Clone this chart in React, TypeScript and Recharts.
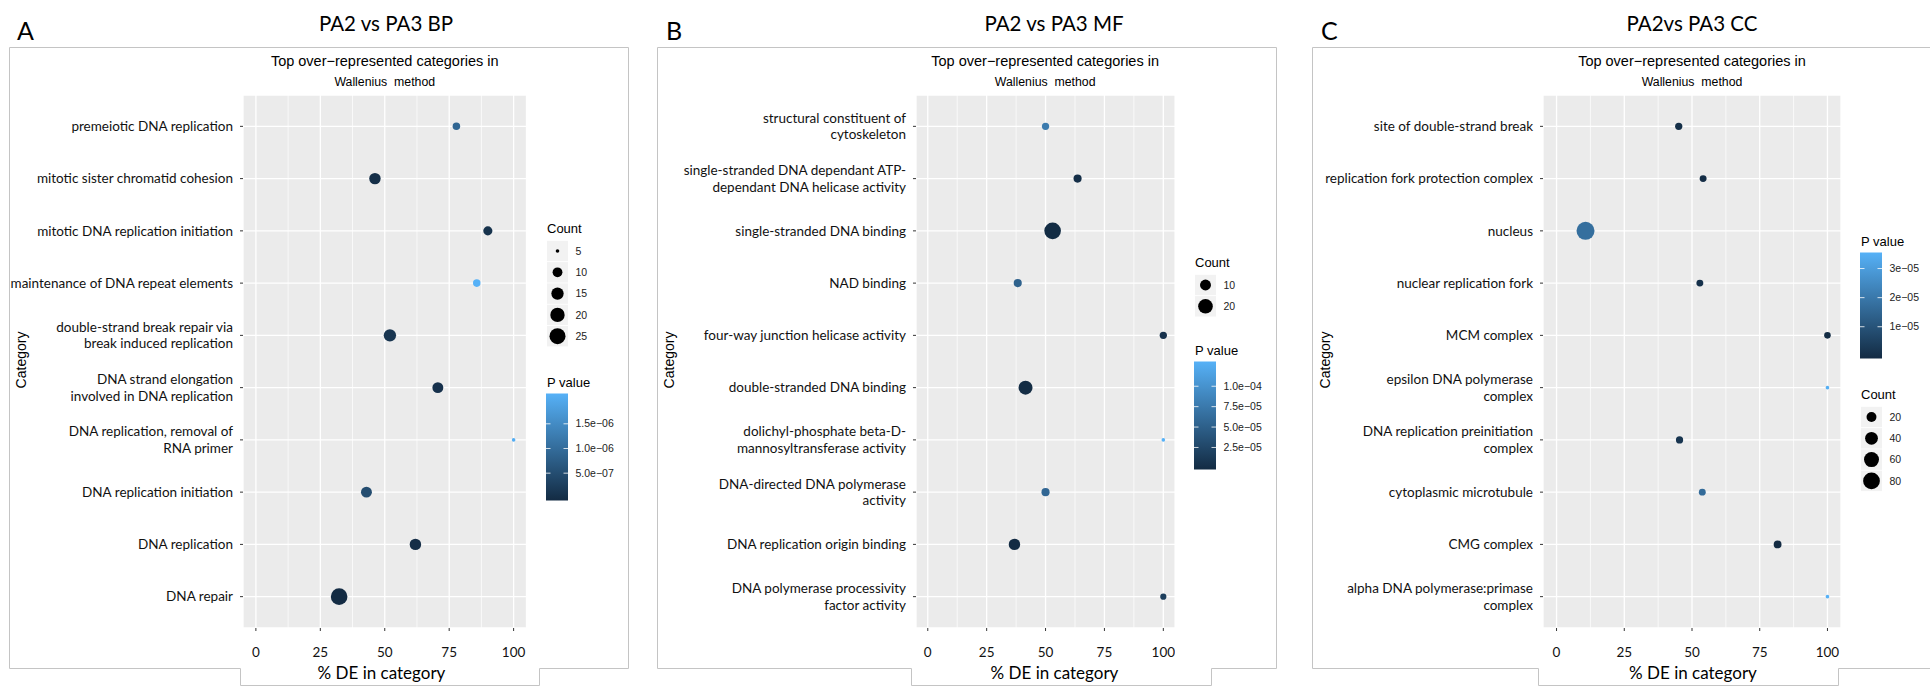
import React from 'react'
import { ScatterChart, Scatter, XAxis, YAxis, CartesianGrid, ReferenceLine } from 'recharts'

// ---- BP panel ----
const bpCategories = [
  'premeiotic DNA replication',
  'mitotic sister chromatid cohesion',
  'mitotic DNA replication initiation',
  'maintenance of DNA repeat elements',
  'double-strand break repair via\nbreak induced replication',
  'DNA strand elongation\ninvolved in DNA replication',
  'DNA replication, removal of\nRNA primer',
  'DNA replication initiation',
  'DNA replication',
  'DNA repair',
]
const bpPct = [77.8, 46.2, 90, 85.7, 52, 70.6, 100, 42.9, 61.9, 32.3]
const bpCount = [7, 13, 9, 7, 15, 12, 5, 12, 13, 27]
const bpPval = [9e-7, 6e-8, 1.2e-7, 2.06e-6, 1.5e-7, 1e-7, 2.0e-6, 5.2e-7, 5e-8, 2e-10]
const bpCountBreaks = [5, 10, 15, 20, 25]
const bpPvalBreaks = [1.5e-6, 1.0e-6, 5.0e-7]
const bpPvalLabels = ['1.5e−06', '1.0e−06', '5.0e−07']

// ---- MF panel ----
const mfCategories = [
  'structural constituent of\ncytoskeleton',
  'single-stranded DNA dependant ATP-\ndependant DNA helicase activity',
  'single-stranded DNA binding',
  'NAD binding',
  'four-way junction helicase activity',
  'double-stranded DNA binding',
  'dolichyl-phosphate beta-D-\nmannosyltransferase activity',
  'DNA-directed DNA polymerase\nactivity',
  'DNA replication origin binding',
  'DNA polymerase processivity\nfactor activity',
]
const mfPct = [50, 63.6, 53, 38.2, 100, 41.5, 100, 50, 36.8, 100]
const mfCount = [4, 5, 27, 5, 4, 18, 2, 5, 11, 3]
const mfPval = [7.6e-5, 5e-6, 2e-6, 5.3e-5, 8e-6, 3e-6, 1.27e-4, 5.7e-5, 1.3e-6, 1.9e-5]
const mfCountBreaks = [10, 20]
const mfPvalBreaks = [1.0e-4, 7.5e-5, 5.0e-5, 2.5e-5]
const mfPvalLabels = ['1.0e−04', '7.5e−05', '5.0e−05', '2.5e−05']

// ---- CC panel ----
const ccCategories = [
  'site of double-strand break',
  'replication fork protection complex',
  'nucleus',
  'nuclear replication fork',
  'MCM complex',
  'epsilon DNA polymerase\ncomplex',
  'DNA replication preinitiation\ncomplex',
  'cytoplasmic microtubule',
  'CMG complex',
  'alpha DNA polymerase:primase\ncomplex',
]
const ccPct = [45.1, 54.1, 10.7, 52.9, 100, 100, 45.4, 53.8, 81.6, 100]
const ccCount = [8, 7, 95, 7, 6, 2, 8, 7, 10, 2]
const ccPval = [1e-6, 5e-7, 1.75e-5, 1.5e-6, 2e-7, 3.4e-5, 2.5e-6, 1.65e-5, 1e-9, 3.46e-5]
const ccCountBreaks = [20, 40, 60, 80]
const ccPvalBreaks = [3e-5, 2e-5, 1e-5]
const ccPvalLabels = ['3e−05', '2e−05', '1e−05']

const xTicks = [0, 25, 50, 75, 100]
const xMinor = [12.5, 37.5, 62.5, 87.5]

const PLOT_TOP = 95
const PLOT_H = 533
const Y_AXIS_W = 240
const X_AXIS_H = 50
const R_MIN = 1.8
const LOW = [19, 43, 67]
const HIGH = [86, 177, 247]
const GG = "'Liberation Sans', Arial, sans-serif"
const CAL = "Lato, 'Open Sans', sans-serif"

function makeRadius(counts: number[], rMax: number) {
  const lo = Math.min(...counts)
  const hi = Math.max(...counts)
  return (c: number) => R_MIN + (rMax - R_MIN) * Math.sqrt(Math.max(0, (c - lo) / (hi - lo)))
}

function makeColor(pvals: number[]) {
  const lo = Math.min(...pvals)
  const hi = Math.max(...pvals)
  return (p: number) => {
    const t = Math.min(1, Math.max(0, (p - lo) / (hi - lo)))
    const c = LOW.map((v, i) => Math.round(v + (HIGH[i] - v) * t))
    return `rgb(${c[0]},${c[1]},${c[2]})`
  }
}

type Spec = {
  id: string
  letter: string
  letterX: number
  title: string
  titleX: number
  plotLeft: number
  plotRight: number
  xLabelX: number
  categoryX: number
  box: string
  legendX: number
  countTitleY: number
  pTitleY: number
  barH: number
  rMax: number
  categories: string[]
  pct: number[]
  count: number[]
  pval: number[]
  countBreaks: number[]
  pBreaks: number[]
  pLabels: string[]
}

const specs: Spec[] = [
  {
    id: 'bp', letter: 'A', letterX: 17, title: 'PA2 vs PA3 BP', titleX: 386,
    plotLeft: 243, plotRight: 526.5, xLabelX: 381.5, categoryX: 21,
    box: 'M9.5 668.5V47.5H628.5V668.5H539.5V685.5H240.5V668.5Z',
    legendX: 547, countTitleY: 228, pTitleY: 382, barH: 107, rMax: 8.3,
    categories: bpCategories, pct: bpPct, count: bpCount, pval: bpPval,
    countBreaks: bpCountBreaks, pBreaks: bpPvalBreaks, pLabels: bpPvalLabels,
  },
  {
    id: 'mf', letter: 'B', letterX: 666, title: 'PA2 vs PA3 MF', titleX: 1054,
    plotLeft: 915.6, plotRight: 1174.7, xLabelX: 1054.5, categoryX: 669,
    box: 'M657.5 668.5V47.5H1276.5V668.5H1211.5V685.5H911.5V668.5Z',
    legendX: 1195, countTitleY: 262, pTitleY: 350, barH: 108, rMax: 8.3,
    categories: mfCategories, pct: mfPct, count: mfCount, pval: mfPval,
    countBreaks: mfCountBreaks, pBreaks: mfPvalBreaks, pLabels: mfPvalLabels,
  },
  {
    id: 'cc', letter: 'C', letterX: 1321, title: 'PA2vs PA3 CC', titleX: 1692,
    plotLeft: 1543, plotRight: 1841, xLabelX: 1693, categoryX: 1325,
    box: 'M1930 47.5H1312.5V668.5H1538.5V685.5H1838.5V668.5H1930',
    legendX: 1861, countTitleY: 394, pTitleY: 241, barH: 106, rMax: 9,
    categories: ccCategories, pct: ccPct, count: ccCount, pval: ccPval,
    countBreaks: ccCountBreaks, pBreaks: ccPvalBreaks, pLabels: ccPvalLabels,
  },
]

function CategoryTick(props: any) {
  const { y, payload, labels } = props
  const lines: string[] = (labels[payload.value - 1] || '').split('\n')
  const lh = 16.7
  const right = Y_AXIS_W - 10
  return (
    <text textAnchor="end" fontFamily={CAL} fontSize={13.5} fill="#111">
      {lines.map((l, i) => (
        <tspan key={i} x={right} y={y + (i - (lines.length - 1) / 2) * lh} dy="0.35em">
          {l}
        </tspan>
      ))}
    </text>
  )
}

function PctTick(props: any) {
  const { x, payload } = props
  return (
    <text x={x} y={PLOT_H + 24} dy="0.35em" textAnchor="middle" fontFamily={CAL} fontSize={13.5} fill="#111">
      {payload.value}
    </text>
  )
}

function Panel({ s }: { s: Spec }) {
  const radius = makeRadius(s.count, s.rMax)
  const color = makeColor(s.pval)
  const data = s.categories.map((c, i) => ({ x: s.pct[i], y: i + 1, count: s.count[i], p: s.pval[i] }))
  const rows = s.categories.map((_, i) => i + 1)
  const plotW = s.plotRight - s.plotLeft
  const plotCx = (s.plotLeft + s.plotRight) / 2

  const pLo = Math.min(...s.pval)
  const pHi = Math.max(...s.pval)
  const barTop = s.pTitleY + 11.5
  const tickY = (v: number) => barTop + s.barH * (0.025 + 0.95 * (pHi - v) / (pHi - pLo))
  const lx = s.legendX
  const labX = lx + 28.5

  return (
    <>
      <svg width={1930} height={686} style={{ position: 'absolute', left: 0, top: 0 }}>
        <defs>
          <linearGradient id={'grad-' + s.id} x1="0" y1="0" x2="0" y2="1">
            <stop offset="0" stopColor={`rgb(${HIGH.join(',')})`} />
            <stop offset="1" stopColor={`rgb(${LOW.join(',')})`} />
          </linearGradient>
        </defs>
        <path d={s.box} fill="none" stroke="#c4c4c4" strokeWidth={1} />
        <text x={s.letterX} y={31} dy="0.36em" fontFamily={CAL} fontSize={25} fill="#000">{s.letter}</text>
        <text x={s.titleX} y={24} dy="0.36em" textAnchor="middle" fontFamily={CAL} fontSize={20.5} fill="#000">{s.title}</text>
        <text x={plotCx} y={61} dy="0.35em" textAnchor="middle" fontFamily={GG} fontSize={14.5} fill="#000">
          Top over−represented categories in
        </text>
        <text x={plotCx} y={82} dy="0.35em" textAnchor="middle" fontFamily={GG} fontSize={12.3} fill="#000">
          {'Wallenius\u00a0 method'}
        </text>
        <text x={s.xLabelX} y={673} dy="0.35em" textAnchor="middle" fontFamily={CAL} fontSize={17} fill="#000">
          % DE in category
        </text>
        <text
          x={s.categoryX}
          y={360}
          dy="0.35em"
          textAnchor="middle"
          fontFamily={GG}
          fontSize={14}
          fill="#000"
          transform={`rotate(-90 ${s.categoryX} 360)`}
        >
          Category
        </text>

        {/* size legend */}
        <text x={lx} y={s.countTitleY} dy="0.35em" fontFamily={GG} fontSize={13} fill="#000">Count</text>
        {s.countBreaks.map((b, i) => {
          const cy = s.countTitleY + 23 + i * 21.3
          return (
            <g key={b}>
              <rect x={lx} y={cy - 10.2} width={21} height={20.4} fill="#f2f2f2" />
              <circle cx={lx + 10.5} cy={cy} r={radius(b)} fill="#000" />
              <text x={labX} y={cy} dy="0.35em" fontFamily={GG} fontSize={10.5} fill="#222">{b}</text>
            </g>
          )
        })}

        {/* colour legend */}
        <text x={lx} y={s.pTitleY} dy="0.35em" fontFamily={GG} fontSize={13} fill="#000">P value</text>
        <rect x={lx - 1} y={barTop} width={22} height={s.barH} fill={`url(#grad-${s.id})`} />
        {s.pBreaks.map((b, i) => {
          const ty = tickY(b)
          return (
            <g key={b}>
              <line x1={lx - 1} x2={lx + 3.5} y1={ty} y2={ty} stroke="#fff" strokeOpacity={0.8} />
              <line x1={lx + 16.5} x2={lx + 21} y1={ty} y2={ty} stroke="#fff" strokeOpacity={0.8} />
              <text x={labX} y={ty} dy="0.35em" fontFamily={GG} fontSize={10.5} fill="#222">{s.pLabels[i]}</text>
            </g>
          )
        })}
      </svg>

      <div style={{ position: 'absolute', left: s.plotLeft - Y_AXIS_W, top: PLOT_TOP }}>
        <ScatterChart
          width={Y_AXIS_W + plotW}
          height={PLOT_H + X_AXIS_H}
          margin={{ top: 0, right: 0, bottom: 0, left: 0 }}
        >
          <CartesianGrid fill="#ebebeb" fillOpacity={1} stroke="#ffffff" strokeWidth={1.3} />
          <XAxis
            type="number"
            dataKey="x"
            domain={[-5, 105]}
            ticks={xTicks}
            allowDataOverflow
            interval={0}
            height={X_AXIS_H}
            axisLine={false}
            tickLine={{ stroke: '#333' }}
            tickSize={3}
            tick={<PctTick />}
          />
          <YAxis
            type="number"
            dataKey="y"
            domain={[0.4, 10.6]}
            ticks={rows}
            reversed
            allowDataOverflow
            interval={0}
            width={Y_AXIS_W}
            axisLine={false}
            tickLine={{ stroke: '#333' }}
            tickSize={3}
            tick={<CategoryTick labels={s.categories} />}
          />
          {xMinor.map((v) => (
            <ReferenceLine key={v} x={v} stroke="#ffffff" strokeWidth={0.7} />
          ))}
          <Scatter
            data={data}
            isAnimationActive={false}
            shape={(p: any) => (
              <circle cx={p.cx} cy={p.cy} r={radius(p.payload.count)} fill={color(p.payload.p)} />
            )}
          />
        </ScatterChart>
      </div>
    </>
  )
}

export default function App() {
  return (
    <div style={{ position: 'absolute', left: 0, top: 0, width: 1930, height: 686, background: '#fff', overflow: 'hidden' }}>
      {specs.map((s) => (
        <Panel key={s.id} s={s} />
      ))}
    </div>
  )
}
